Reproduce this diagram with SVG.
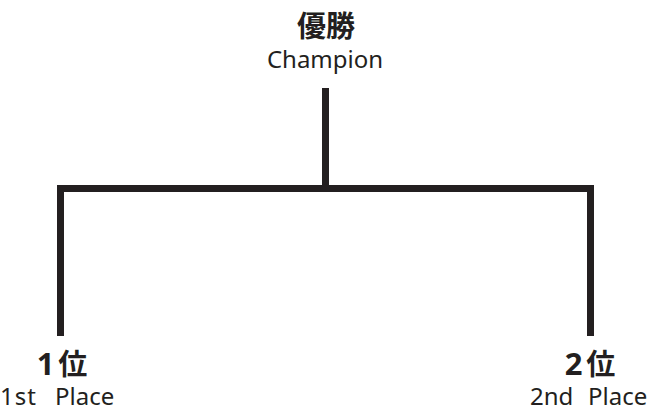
<svg xmlns="http://www.w3.org/2000/svg" width="652" height="410" viewBox="0 0 652 410">
<style>
.t{font-family:"Noto Sans","Noto Sans CJK JP",sans-serif;fill:#231f20;white-space:pre}
.m{text-anchor:middle}
.h{font-size:29px;font-weight:bold}
.s{font-size:24px}
.ln{stroke:#231f20;stroke-width:7;fill:none;stroke-linecap:butt;stroke-linejoin:miter}
</style>
<rect width="652" height="410" fill="#fff"/>
<g id="connectors">
<path class="ln" d="M325.5 88V188.5"/>
<path class="ln" d="M60.5 336V188.5H590.5V336"/>
</g>
<g id="champion">
<text class="t h m" x="326" y="37">優勝</text>
<text class="t s m" x="325" y="68">Champion</text>
</g>
<g id="first">
<text class="t h m" x="62" y="375"><tspan font-size="31">1</tspan><tspan dx="4">位</tspan></text>
<text class="t s" y="405"><tspan x="0" letter-spacing="1">1st</tspan><tspan x="55">Place</tspan></text>
</g>
<g id="second">
<text class="t h m" x="590" y="375"><tspan font-size="31">2</tspan><tspan dx="4">位</tspan></text>
<text class="t s" y="405"><tspan x="530">2nd</tspan><tspan x="588">Place</tspan></text>
</g>
</svg>
